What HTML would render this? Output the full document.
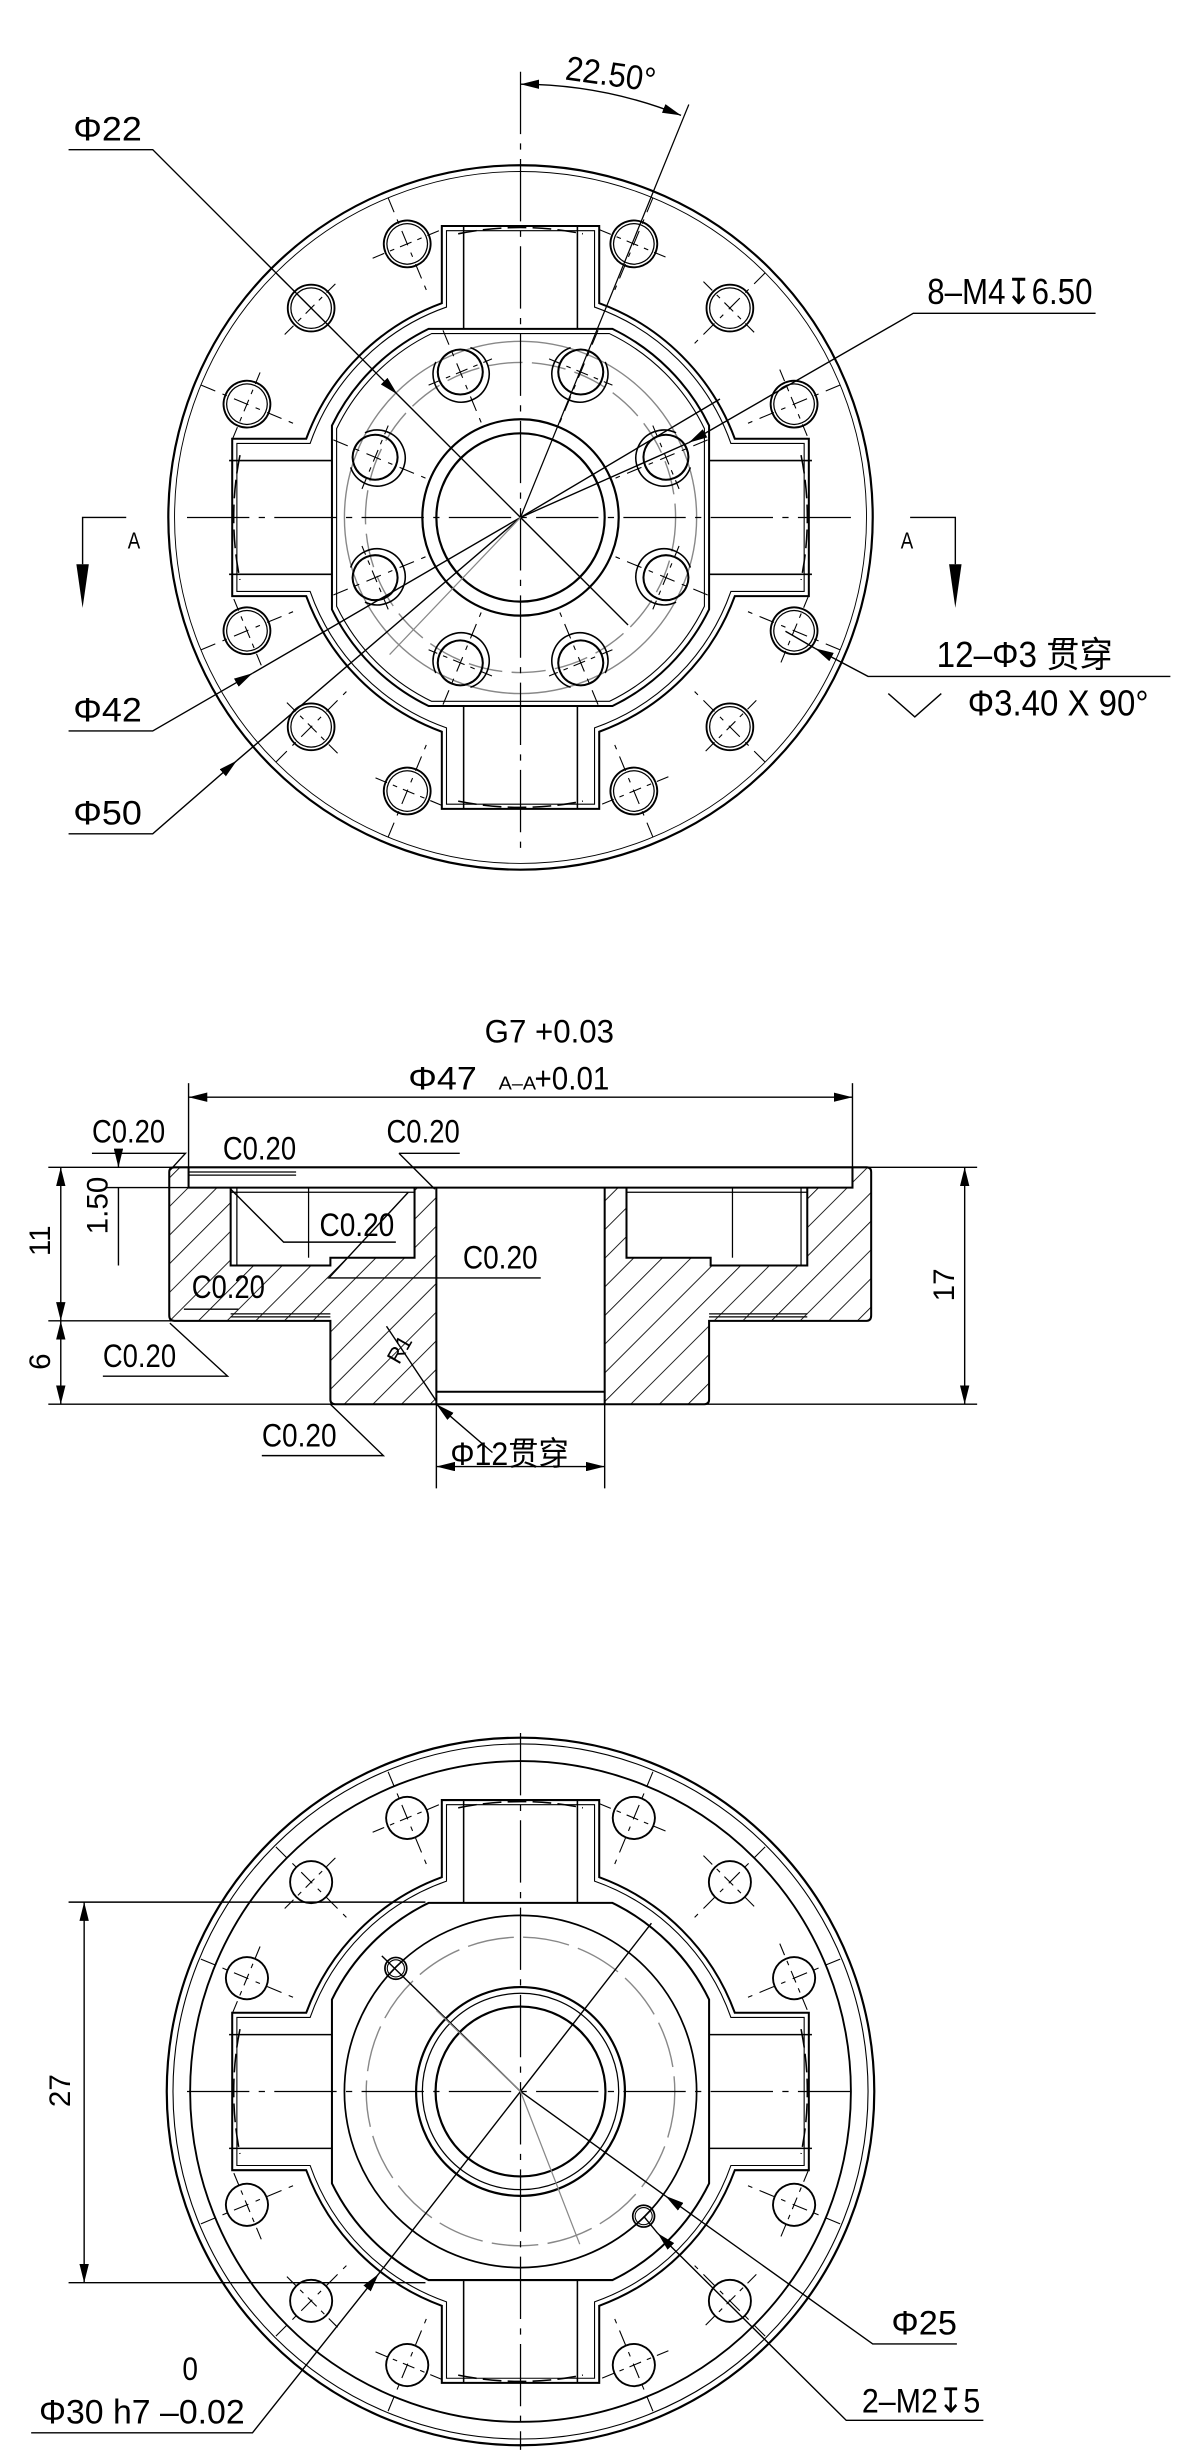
<!DOCTYPE html>
<html><head><meta charset="utf-8"><style>
html,body{margin:0;padding:0;background:#fff}
svg{display:block}
text{font-family:"Liberation Sans Narrow","Liberation Sans","Noto Sans CJK SC",sans-serif;fill:#000}
</style></head><body>
<svg width="1200" height="2464" viewBox="0 0 770 1581" xmlns="http://www.w3.org/2000/svg">
<defs>
<pattern id="hat" patternUnits="userSpaceOnUse" width="13" height="13" patternTransform="rotate(45)">
<line x1="0" y1="0" x2="0" y2="13" stroke="#000" stroke-width="1.1"/>
</pattern>
<g id="h12">
<circle cx="0" cy="-190" r="15" fill="none" stroke="#000" stroke-width="1.2"/>
<circle cx="0" cy="-190" r="13" fill="none" stroke="#000" stroke-width="0.8"/>
<line x1="0" y1="-222" x2="0" y2="-158" stroke="#000" stroke-width="0.7" stroke-dasharray="10,5,3,5"/>
<line x1="-24" y1="-190" x2="24" y2="-190" stroke="#000" stroke-width="0.7" stroke-dasharray="8,4,3,4"/>
</g>
<g id="b12">
<circle cx="0" cy="-190" r="13.5" fill="none" stroke="#000" stroke-width="1.2"/>
<line x1="0" y1="-222" x2="0" y2="-158" stroke="#000" stroke-width="0.7" stroke-dasharray="10,5,3,5"/>
<line x1="-24" y1="-190" x2="24" y2="-190" stroke="#000" stroke-width="0.7" stroke-dasharray="8,4,3,4"/>
</g>
<g id="h8">
<circle cx="0" cy="-101" r="14.4" fill="none" stroke="#000" stroke-width="1.3"/>
<path d="M -12 -113 A 18 18 0 1 0 12 -113" fill="none" stroke="#000" stroke-width="1"/>
<line x1="0" y1="-130" x2="0" y2="-66" stroke="#000" stroke-width="0.7" stroke-dasharray="10,5,3,5"/>
<line x1="-22" y1="-101" x2="22" y2="-101" stroke="#000" stroke-width="0.7" stroke-dasharray="8,4,3,4"/>
</g>
<path id="body" d="M -50.5 -187 H 50.5 V -137.5 A 146.5 146.5 0 0 1 137.5 -50.5 H 185 V 50.5 H 137.5 A 146.5 146.5 0 0 1 50.5 137.5 V 187 H -50.5 V 137.5 A 146.5 146.5 0 0 1 -137.5 50.5 H -185 V -50.5 H -137.5 A 146.5 146.5 0 0 1 -50.5 -137.5 Z" fill="none" stroke="#000" stroke-width="1.3"/>
<path id="body2" d="M -47.5 -184 H 47.5 V -135 A 143 143 0 0 1 135 -47.5 H 182 V 47.5 H 135 A 143 143 0 0 1 47.5 135 V 184 H -47.5 V 135 A 143 143 0 0 1 -135 47.5 H -182 V -47.5 H -135 A 143 143 0 0 1 -47.5 -135 Z" fill="none" stroke="#000" stroke-width="0.7"/>
<path id="oct" d="M -59 -121 H 59 A 134.6 134.6 0 0 1 121 -59 V 59 A 134.6 134.6 0 0 1 59 121 H -59 A 134.6 134.6 0 0 1 -121 59 V -59 A 134.6 134.6 0 0 1 -59 -121 Z" fill="none" stroke="#000" stroke-width="1.3"/>
<path id="oct2" d="M -57 -118 H 57 A 131 131 0 0 1 118 -57 V 57 A 131 131 0 0 1 57 118 H -57 A 131 131 0 0 1 -118 57 V -57 A 131 131 0 0 1 -57 -118 Z" fill="none" stroke="#000" stroke-width="0.7"/>
<g id="slots" stroke="#000" stroke-width="1" fill="none">
<line x1="-36.5" y1="-187" x2="-36.5" y2="-121"/><line x1="36.5" y1="-187" x2="36.5" y2="-121"/>
<line x1="-36.5" y1="187" x2="-36.5" y2="121"/><line x1="36.5" y1="187" x2="36.5" y2="121"/>
<line x1="-187" y1="-36.5" x2="-121" y2="-36.5"/><line x1="-187" y1="36.5" x2="-121" y2="36.5"/>
<line x1="187" y1="-36.5" x2="121" y2="-36.5"/><line x1="187" y1="36.5" x2="121" y2="36.5"/>
<path d="M -180 -40 A 200 200 0 0 0 -180 40 M 180 -40 A 200 200 0 0 1 180 40 M -40 -182 A 200 200 0 0 1 40 -182 M -40 182 A 200 200 0 0 0 40 182" stroke-dasharray="12,4"/>
</g>
<marker id="ar" viewBox="0 0 12 6" refX="12" refY="3" markerWidth="12" markerHeight="6" markerUnits="userSpaceOnUse" orient="auto"><path d="M0 0 L12 3 L0 6 Z" fill="#000"/></marker>
<marker id="ars" viewBox="0 0 12 6" refX="0" refY="3" markerWidth="12" markerHeight="6" markerUnits="userSpaceOnUse" orient="auto"><path d="M12 0 L0 3 L12 6 Z" fill="#000"/></marker>
</defs>

<!-- ===== TOP VIEW ===== -->
<g transform="translate(334,332)">
<circle r="226" fill="none" stroke="#000" stroke-width="1.4"/>
<circle r="222" fill="none" stroke="#000" stroke-width="0.6"/>
<use href="#body"/><use href="#body2"/>
<use href="#oct"/><use href="#oct2"/>
<use href="#slots"/>
<circle r="113" fill="none" stroke="#888" stroke-width="0.9"/>
<circle r="99.5" fill="none" stroke="#888" stroke-width="0.9" stroke-dasharray="22,6"/>
<circle r="63" fill="none" stroke="#000" stroke-width="1.4"/>
<circle r="54" fill="none" stroke="#000" stroke-width="1.4"/>
<g>
<use href="#h12" transform="rotate(22.5)"/><use href="#h12" transform="rotate(45)"/><use href="#h12" transform="rotate(67.5)"/>
<use href="#h12" transform="rotate(112.5)"/><use href="#h12" transform="rotate(135)"/><use href="#h12" transform="rotate(157.5)"/>
<use href="#h12" transform="rotate(202.5)"/><use href="#h12" transform="rotate(225)"/><use href="#h12" transform="rotate(247.5)"/>
<use href="#h12" transform="rotate(292.5)"/><use href="#h12" transform="rotate(315)"/><use href="#h12" transform="rotate(337.5)"/>
</g>
<g>
<use href="#h8" transform="rotate(22.5)"/><use href="#h8" transform="rotate(67.5)"/><use href="#h8" transform="rotate(112.5)"/><use href="#h8" transform="rotate(157.5)"/>
<use href="#h8" transform="rotate(202.5)"/><use href="#h8" transform="rotate(247.5)"/><use href="#h8" transform="rotate(292.5)"/><use href="#h8" transform="rotate(337.5)"/>
</g>
</g>
<!-- centerlines top -->
<line x1="334" y1="46" x2="334" y2="544" stroke="#000" stroke-width="0.8" stroke-dasharray="40,6,4,6"/>
<line x1="120" y1="332" x2="546" y2="332" stroke="#000" stroke-width="0.8" stroke-dasharray="40,6,4,6"/>
<!-- 22.5 dim -->
<line x1="334" y1="332" x2="442" y2="67" stroke="#000" stroke-width="0.8"/>
<path d="M 334 54 A 278 278 0 0 1 437 74" fill="none" stroke="#000" stroke-width="0.9" marker-start="url(#ars)" marker-end="url(#ar)"/>
<text x="363" y="55" font-size="22" textLength="58" lengthAdjust="spacingAndGlyphs" transform="rotate(8 392 47)">22.50°</text>
<!-- Φ22 -->
<text x="47" y="90" font-size="22" textLength="44" lengthAdjust="spacingAndGlyphs">Φ22</text>
<polyline points="44,96 98,96 255,253" fill="none" stroke="#000" stroke-width="0.9" marker-end="url(#ar)"/>
<line x1="255" y1="253" x2="403" y2="401" stroke="#000" stroke-width="0.9"/>
<!-- 8-M4 -->
<text x="595" y="195" font-size="23" textLength="106" lengthAdjust="spacingAndGlyphs">8–M4↧6.50</text>
<polyline points="703,201 586,201 442,284" fill="none" stroke="#000" stroke-width="0.9" marker-end="url(#ar)"/>
<line x1="442" y1="284" x2="334" y2="332" stroke="#000" stroke-width="0.9"/>
<line x1="462" y1="256" x2="334" y2="332" stroke="#000" stroke-width="0.9"/>
<!-- Φ42 -->
<text x="47" y="463" font-size="22" textLength="44" lengthAdjust="spacingAndGlyphs">Φ42</text>
<polyline points="44,469 98,469 162,432" fill="none" stroke="#000" stroke-width="0.9" marker-end="url(#ar)"/>
<line x1="162" y1="432" x2="334" y2="332" stroke="#000" stroke-width="0.9"/>
<!-- Φ50 -->
<text x="47" y="529" font-size="22" textLength="44" lengthAdjust="spacingAndGlyphs">Φ50</text>
<polyline points="44,535 98,535 152,488" fill="none" stroke="#000" stroke-width="0.9" marker-end="url(#ar)"/>
<line x1="152" y1="488" x2="334" y2="332" stroke="#000" stroke-width="0.9"/>
<line x1="250" y1="420" x2="334" y2="332" stroke="#888" stroke-width="0.8"/>
<!-- 12-Φ3 -->
<text x="601" y="428" font-size="23" textLength="113" lengthAdjust="spacingAndGlyphs">12–Φ3 贯穿</text>
<polyline points="751,434 557,434 523,416" fill="none" stroke="#000" stroke-width="0.9" marker-end="url(#ar)"/>
<line x1="523" y1="416" x2="504" y2="405" stroke="#000" stroke-width="0.9"/>
<polyline points="570,445 587,460 604,445" fill="none" stroke="#000" stroke-width="0.9"/>
<text x="621" y="459" font-size="23" textLength="116" lengthAdjust="spacingAndGlyphs">Φ3.40 X 90°</text>
<!-- section marks -->
<polyline points="81,332 53,332 53,362" fill="none" stroke="#000" stroke-width="0.9"/>
<path d="M 49 362 L 57 362 L 53 390 Z" fill="#000"/>
<text x="82" y="352" font-size="15" textLength="8" lengthAdjust="spacingAndGlyphs">A</text>
<polyline points="584,332 613,332 613,362" fill="none" stroke="#000" stroke-width="0.9"/>
<path d="M 609 362 L 617 362 L 613 390 Z" fill="#000"/>
<text x="578" y="352" font-size="15" textLength="8" lengthAdjust="spacingAndGlyphs">A</text>

<!-- ===== SECTION VIEW ===== -->
<g stroke="#000" stroke-width="0.9" fill="none">
<line x1="31" y1="749" x2="627" y2="749"/>
<line x1="31" y1="901" x2="627" y2="901"/>
<line x1="31" y1="847.5" x2="148" y2="847.5"/>
</g>
<path d="M 108.6 749 H 121 V 762 H 148 V 812 H 212 V 807 H 266 V 762 H 280 V 901 H 212 V 847.5 H 108.6 Z" fill="url(#hat)" stroke="none"/>
<path d="M 388 762 H 402 V 807 H 456 V 812 H 518 V 762 H 547 V 749 H 559 V 847.5 H 455 V 901 H 388 Z" fill="url(#hat)" stroke="none"/>
<g stroke="#000" stroke-width="1.3" fill="none">
<path d="M 108.6 752 V 844 Q 108.6 847.5 112 847.5 H 212 V 898 Q 212 901 215 901 H 452 Q 455 901 455 898 V 847.5 H 556 Q 559 847.5 559 844 V 752 Q 559 749 556 749 H 112 Q 108.6 749 108.6 752 Z"/>
<path d="M 121 749 V 762 H 547 V 749"/>
<path d="M 148 762 V 812 H 212 V 807 H 266 V 762"/>
<path d="M 402 762 V 807 H 456 V 812 H 518 V 762"/>
<line x1="280" y1="762" x2="280" y2="901"/>
<line x1="388" y1="762" x2="388" y2="901"/>
<line x1="280" y1="893" x2="388" y2="893"/>
</g>
<g stroke="#000" stroke-width="0.8" fill="none">
<line x1="152" y1="762" x2="152" y2="812"/><line x1="198" y1="762" x2="198" y2="807"/>
<line x1="470" y1="762" x2="470" y2="807"/><line x1="514" y1="762" x2="514" y2="812"/>
<line x1="148" y1="843" x2="212" y2="843"/><line x1="148" y1="845" x2="212" y2="845"/>
<line x1="455" y1="843" x2="518" y2="843"/><line x1="455" y1="845" x2="518" y2="845"/>
<line x1="121" y1="752" x2="190" y2="752"/><line x1="121" y1="754" x2="190" y2="754"/>
<line x1="148" y1="765" x2="266" y2="765"/><line x1="402" y1="765" x2="518" y2="765"/>
</g>
<!-- dims section -->
<g stroke="#000" stroke-width="0.9" fill="none">
<line x1="121" y1="695" x2="121" y2="749"/><line x1="547" y1="695" x2="547" y2="749"/>
<line x1="121" y1="704" x2="547" y2="704" marker-start="url(#ars)" marker-end="url(#ar)"/>
<line x1="619" y1="749" x2="619" y2="901" marker-start="url(#ars)" marker-end="url(#ar)"/>
<line x1="39" y1="749" x2="39" y2="847.5" marker-start="url(#ars)" marker-end="url(#ar)"/>
<line x1="39" y1="847.5" x2="39" y2="901" marker-start="url(#ars)" marker-end="url(#ar)"/>
<line x1="68" y1="762" x2="121" y2="762"/>
<line x1="76" y1="738" x2="76" y2="749" marker-end="url(#ar)"/>
<line x1="76" y1="762" x2="76" y2="812"/>
<line x1="280" y1="901" x2="280" y2="955"/><line x1="388" y1="901" x2="388" y2="955"/>
<line x1="280" y1="941" x2="388" y2="941" marker-start="url(#ars)" marker-end="url(#ar)"/>
<line x1="316" y1="932" x2="280" y2="901" marker-end="url(#ar)"/>
<polyline points="59,740 119,740 109,751"/>
<polyline points="256,740 295,740"/><line x1="256" y1="740" x2="279" y2="763"/>
<polyline points="254,797 182,797 148,763"/>
<polyline points="347,820 211,820 262,765"/>
<polyline points="118,840 153,840"/>
<polyline points="66,883 146,883 109,849"/>
<polyline points="168,934 246,934 212,901"/>
<line x1="248" y1="851" x2="280" y2="899"/>
</g>
<text x="311" y="669" font-size="21" textLength="83" lengthAdjust="spacingAndGlyphs">G7 +0.03</text>
<text x="262" y="699" font-size="21" textLength="44" lengthAdjust="spacingAndGlyphs">Φ47</text>
<text x="320" y="699" font-size="12" textLength="24" lengthAdjust="spacingAndGlyphs">A–A</text>
<text x="343" y="699" font-size="21" textLength="48" lengthAdjust="spacingAndGlyphs">+0.01</text>
<text x="59" y="733" font-size="21" textLength="47" lengthAdjust="spacingAndGlyphs">C0.20</text>
<text x="143" y="744" font-size="21" textLength="47" lengthAdjust="spacingAndGlyphs">C0.20</text>
<text x="248" y="733" font-size="21" textLength="47" lengthAdjust="spacingAndGlyphs">C0.20</text>
<text x="205" y="793" font-size="21" textLength="48" lengthAdjust="spacingAndGlyphs">C0.20</text>
<text x="297" y="814" font-size="21" textLength="48" lengthAdjust="spacingAndGlyphs">C0.20</text>
<text x="123" y="833" font-size="21" textLength="47" lengthAdjust="spacingAndGlyphs">C0.20</text>
<text x="66" y="877" font-size="21" textLength="47" lengthAdjust="spacingAndGlyphs">C0.20</text>
<text x="168" y="928" font-size="21" textLength="48" lengthAdjust="spacingAndGlyphs">C0.20</text>
<text x="289" y="940" font-size="21" textLength="76" lengthAdjust="spacingAndGlyphs">Φ12贯穿</text>
<text x="0" y="0" font-size="14" transform="translate(256,876) rotate(-60)">R1</text>
<text x="0" y="0" font-size="19" font-family="Liberation Sans" transform="translate(32,806) rotate(-90)">11</text>
<text x="0" y="0" font-size="19" font-family="Liberation Sans" transform="translate(32,879) rotate(-90)">6</text>
<text x="0" y="0" font-size="19" font-family="Liberation Sans" transform="translate(612,835) rotate(-90)">17</text>
<text x="0" y="0" font-size="19" font-family="Liberation Sans" transform="translate(69,792) rotate(-90)">1.50</text>

<!-- ===== BOTTOM VIEW ===== -->
<g transform="translate(334,1342)">
<circle r="227" fill="none" stroke="#000" stroke-width="1.4"/>
<circle r="223" fill="none" stroke="#000" stroke-width="0.7"/>
<circle r="212" fill="none" stroke="#000" stroke-width="1.2"/>
<use href="#body"/><use href="#body2"/>
<use href="#oct"/>
<use href="#slots"/>
<circle r="113" fill="none" stroke="#000" stroke-width="1.1"/>
<circle r="99" fill="none" stroke="#888" stroke-width="0.9" stroke-dasharray="30,6"/>
<circle r="67" fill="none" stroke="#000" stroke-width="1.4"/>
<circle r="63" fill="none" stroke="#000" stroke-width="0.8"/>
<circle r="54.5" fill="none" stroke="#000" stroke-width="1.4"/>
<use href="#b12" transform="rotate(22.5)"/><use href="#b12" transform="rotate(45)"/><use href="#b12" transform="rotate(67.5)"/>
<use href="#b12" transform="rotate(112.5)"/><use href="#b12" transform="rotate(135)"/><use href="#b12" transform="rotate(157.5)"/>
<use href="#b12" transform="rotate(202.5)"/><use href="#b12" transform="rotate(225)"/><use href="#b12" transform="rotate(247.5)"/>
<use href="#b12" transform="rotate(292.5)"/><use href="#b12" transform="rotate(315)"/><use href="#b12" transform="rotate(337.5)"/>
</g>
<circle cx="254" cy="1263" r="7" fill="none" stroke="#000" stroke-width="1.1"/>
<circle cx="254" cy="1263" r="5.5" fill="none" stroke="#000" stroke-width="0.7"/>
<circle cx="413" cy="1422" r="7" fill="none" stroke="#000" stroke-width="1.1"/>
<circle cx="413" cy="1422" r="5.5" fill="none" stroke="#000" stroke-width="0.7"/>
<line x1="334" y1="1112" x2="334" y2="1572" stroke="#000" stroke-width="0.8" stroke-dasharray="40,6,4,6"/>
<line x1="120" y1="1342" x2="546" y2="1342" stroke="#000" stroke-width="0.8" stroke-dasharray="40,6,4,6"/>
<g stroke="#000" stroke-width="0.9" fill="none">
<line x1="44" y1="1220.5" x2="273" y2="1220.5"/><line x1="44" y1="1464.7" x2="273" y2="1464.7"/>
<line x1="54" y1="1220.5" x2="54" y2="1464.7" marker-start="url(#ars)" marker-end="url(#ar)"/>
<line x1="245" y1="1255" x2="334" y2="1342"/>
<polyline points="614,1504 560,1504 427,1409" marker-end="url(#ar)"/>
<line x1="427" y1="1409" x2="334" y2="1342"/>
<polyline points="631,1553 543,1553 422,1433" marker-end="url(#ar)"/>
<line x1="422" y1="1433" x2="413" y2="1422"/>
<polyline points="20,1561 162,1561 243,1459" marker-end="url(#ar)"/>
<line x1="243" y1="1459" x2="418" y2="1234"/>
</g>
<line x1="334" y1="1342" x2="372" y2="1440" stroke="#888" stroke-width="0.8"/>
<line x1="334" y1="1342" x2="280" y2="1290" stroke="#888" stroke-width="0.8"/>
<text x="0" y="0" font-size="19" font-family="Liberation Sans" transform="translate(45,1352) rotate(-90)">27</text>
<text x="572" y="1498" font-size="22" textLength="42" lengthAdjust="spacingAndGlyphs">Φ25</text>
<text x="553" y="1548" font-size="22" textLength="76" lengthAdjust="spacingAndGlyphs">2–M2↧5</text>
<text x="117" y="1527" font-size="21" textLength="10" lengthAdjust="spacingAndGlyphs">0</text>
<text x="25" y="1555" font-size="22" textLength="132" lengthAdjust="spacingAndGlyphs">Φ30 h7 –0.02</text>
</svg>
</body></html>
